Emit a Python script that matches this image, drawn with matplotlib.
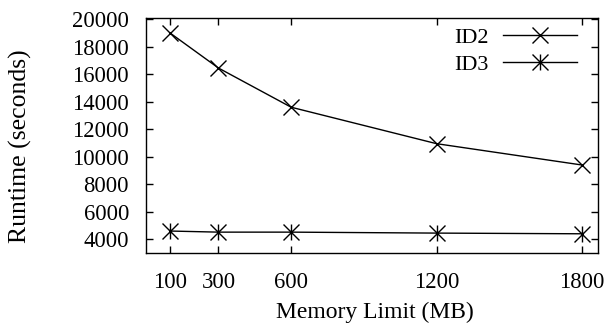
import matplotlib
matplotlib.use("Agg")
import matplotlib.pyplot as plt
from matplotlib.path import Path

memory = [100, 300, 600, 1200, 1800]
id2 = [19000, 16450, 13600, 10950, 9400]
id3 = [4600, 4520, 4520, 4450, 4400]
xticks = [100, 300, 600, 1200, 1800]
yticks = [4000, 6000, 8000, 10000, 12000, 14000, 16000, 18000, 20000]

plt.rcParams['font.family'] = ['Liberation Serif', 'DejaVu Serif']

# gnuplot-style asterisk: x plus vertical bar
star = Path([(-1, -1), (1, 1), (-1, 1), (1, -1), (0, -1), (0, 1)],
            [Path.MOVETO, Path.LINETO, Path.MOVETO, Path.LINETO, Path.MOVETO, Path.LINETO])

W, H = 611, 324
fig = plt.figure(figsize=(W/100, H/100), dpi=100)
L, R, T, B = 146, 598, 18.3, 252.7
ax = fig.add_axes([L/W, 1-B/H, (R-L)/W, (B-T)/H])

ax.plot(memory, id2, color='black', lw=1.0, marker='x', ms=11.5, mew=1.0, label='ID2')
ax.plot(memory, id3, color='black', lw=1.0, marker=star, ms=11.5, mew=1.0, label='ID3')

ax.set_xlim(1, 1866)
ax.set_ylim(3025, 20065)
ax.set_xticks(xticks)
ax.set_yticks(yticks)
ax.tick_params(direction='in', length=5.2, width=1.0, labelsize=16.3,
               top=True, right=True)
ax.tick_params(axis='y', pad=12.2)
ax.tick_params(axis='x', pad=14)
for s in ax.spines.values():
    s.set_linewidth(1.0)

fig.text(375/W, 1-318/H, 'Memory Limit (MB)', fontsize=17,
         ha='center', va='baseline')
fig.text(20/W, 1-146/H, 'Runtime (seconds)', fontsize=18.5,
         ha='center', va='center', rotation=90)

leg = ax.legend(loc='upper right', frameon=False, fontsize=16, markerfirst=False,
                handlelength=3.33, handletextpad=0.66, labelspacing=0.3,
                borderaxespad=0, borderpad=0,
                bbox_to_anchor=((577-L)/(R-L), 1-(27-T)/(B-T)))

fig.savefig('out.png', dpi=100)
